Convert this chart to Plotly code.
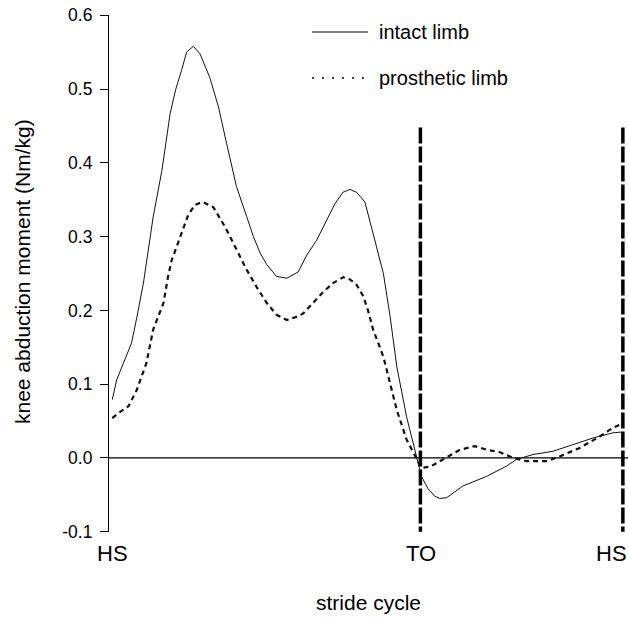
import plotly.graph_objects as go

# ---------------- data ----------------
intact_x = [0.64, 1.5, 2.9, 4.4, 5.4, 6.7, 8.6, 10.3, 11.9, 13.0, 14.1, 15.1, 16.4, 17.7,
            19.6, 21.3, 22.9, 24.8, 26.8, 28.1, 29.4, 30.7, 32.6, 34.6, 36.8, 38.5, 40.4,
            42.2, 44.0, 45.5, 46.9, 48.2, 49.8, 51.4, 53.4, 54.7, 56.0, 57.9, 59.9, 60.8,
            62.1, 63.4, 64.4, 65.7, 68.9, 73.5, 77.4, 79.3, 82.5, 86.4, 90.3, 94.2, 98.1, 99.7]
intact_y = [0.079, 0.106, 0.130, 0.156, 0.190, 0.237, 0.327, 0.390, 0.467, 0.500, 0.525,
            0.550, 0.558, 0.548, 0.516, 0.476, 0.426, 0.368, 0.327, 0.300, 0.278, 0.262,
            0.246, 0.2436, 0.252, 0.275, 0.295, 0.320, 0.345, 0.360, 0.364, 0.360, 0.347,
            0.304, 0.250, 0.192, 0.124, 0.056, 0.002, -0.025, -0.042, -0.052, -0.055,
            -0.054, -0.038, -0.025, -0.011, -0.002, 0.0045, 0.009, 0.018, 0.027, 0.034, 0.035]

prosthetic_x = [0.64, 2.1, 3.8, 5.4, 7.3, 8.6, 10.6, 11.5, 12.2, 13.8, 15.4, 16.7, 18.2,
                20.3, 22.6, 24.2, 26.8, 28.7, 30.7, 32.6, 34.6, 36.8, 37.8, 39.7, 41.7,
                43.6, 45.6, 46.9, 48.2, 49.5, 50.4, 51.4, 53.4, 54.7, 56.0, 57.9, 59.9,
                60.8, 62.5, 64.0, 65.7, 68.3, 71.2, 73.5, 76.1, 78.7, 81.3, 85.2, 87.7,
                91.6, 95.5, 98.1, 99.7]
prosthetic_y = [0.054, 0.062, 0.070, 0.092, 0.129, 0.174, 0.210, 0.246, 0.268, 0.300, 0.329,
                0.343, 0.347, 0.340, 0.313, 0.291, 0.255, 0.232, 0.210, 0.194, 0.187, 0.192,
                0.196, 0.210, 0.225, 0.237, 0.245, 0.242, 0.2345, 0.219, 0.200, 0.174, 0.137,
                0.101, 0.065, 0.025, -0.002, -0.0135, -0.012, -0.006, 0.000, 0.011, 0.016,
                0.011, 0.0076, 0.000, -0.0045, -0.0045, 0.002, 0.0135, 0.029, 0.041, 0.046]

event_x = [0, 60.6, 100]
event_labels = ["HS", "TO", "HS"]
event_label_shift = [3, 1, -11]
event_line_top = 0.448

y_ticks = [-0.1, 0.0, 0.1, 0.2, 0.3, 0.4, 0.5, 0.6]
y_ticktext = ["-0.1", "0.0", "0.1", "0.2", "0.3", "0.4", "0.5", "0.6"]

series_names = ["intact limb", "prosthetic limb"]

# ---------------- figure ----------------
FONT = "Liberation Sans, Arial, Helvetica, sans-serif"
W, H = 628, 620
ML, MR, MT = 109, 0, 15
MB = H - 532
PW, PH = W - ML - MR, H - MT - MB
XMAX = 101.0
YPAD = 0.0005


def px_x(p):
    return (p - ML) / PW


def px_y(p):
    return (H - MB - p) / PH


fig = go.Figure()

fig.add_trace(go.Scatter(x=intact_x, y=intact_y, mode="lines", name=series_names[0],
                         line=dict(color="#111111", width=1.0), showlegend=False))
fig.add_trace(go.Scatter(x=prosthetic_x, y=prosthetic_y, mode="lines", name=series_names[1],
                         line=dict(color="#111111", width=2.2, dash="5px,4px"),
                         showlegend=False))

# vertical event lines (TO and end HS)
for ex in event_x[1:]:
    fig.add_trace(go.Scatter(x=[ex, ex], y=[event_line_top, y_ticks[0]], mode="lines",
                             line=dict(color="black", width=3.5, dash="16px,3px"),
                             showlegend=False, hoverinfo="skip"))

# zero line
fig.add_shape(type="line", xref="x", yref="y", x0=0, x1=XMAX, y0=0, y1=0,
              line=dict(color="black", width=1.2), layer="below")

# event labels
for ex, lab, sh in zip(event_x, event_labels, event_label_shift):
    fig.add_annotation(x=ex, xref="x", y=px_y(553), yref="paper", text=lab,
                       showarrow=False, xanchor="center", yanchor="middle", xshift=sh,
                       font=dict(family=FONT, size=22, color="black"))

# axis titles
fig.add_annotation(x=0.5, xref="paper", y=px_y(602), yref="paper", text="stride cycle",
                   showarrow=False, xanchor="center", yanchor="middle",
                   font=dict(family=FONT, size=21, color="black"))
fig.add_annotation(x=px_x(22), xref="paper", y=px_y(272), yref="paper",
                   text="knee abduction moment (Nm/kg)", textangle=-90,
                   showarrow=False, xanchor="center", yanchor="middle",
                   font=dict(family=FONT, size=21, color="black"))

# manual legend
legend_rows = [32, 78]
legend_dash = ["solid", "2px,8px"]
legend_width = [1.2, 1.5]
for name, row, dsh, lw in zip(series_names, legend_rows, legend_dash, legend_width):
    fig.add_shape(type="line", xref="paper", yref="paper", x0=px_x(312), x1=px_x(368),
                  y0=px_y(row), y1=px_y(row), line=dict(color="black", width=lw, dash=dsh))
    fig.add_annotation(x=px_x(377), xref="paper", y=px_y(row), yref="paper", text=name,
                       showarrow=False, xanchor="left", yanchor="middle",
                       font=dict(family=FONT, size=20, color="black"))

fig.update_layout(
    width=W, height=H,
    margin=dict(l=ML, r=MR, t=MT, b=MB, pad=0),
    paper_bgcolor="white", plot_bgcolor="white",
    showlegend=False,
    font=dict(family=FONT, color="black"),
    xaxis=dict(range=[0, XMAX], showline=False, showgrid=False, zeroline=False,
               showticklabels=False, ticks="", fixedrange=True),
    yaxis=dict(range=[y_ticks[0] - YPAD, y_ticks[-1] + YPAD], tickvals=y_ticks,
               ticktext=y_ticktext,
               showline=True, linecolor="black", linewidth=1.2, mirror=False,
               ticks="outside", ticklen=8, tickwidth=1.2, tickcolor="black",
               showgrid=False, zeroline=False, ticklabelstandoff=4,
               ticklabeloverflow="allow",
               tickfont=dict(family=FONT, size=17.5, color="black")),
)

fig.write_html(
    "out.html",
    config={"displayModeBar": False},
    post_script="document.body.style.margin='0';document.body.style.overflow='hidden';",
)
